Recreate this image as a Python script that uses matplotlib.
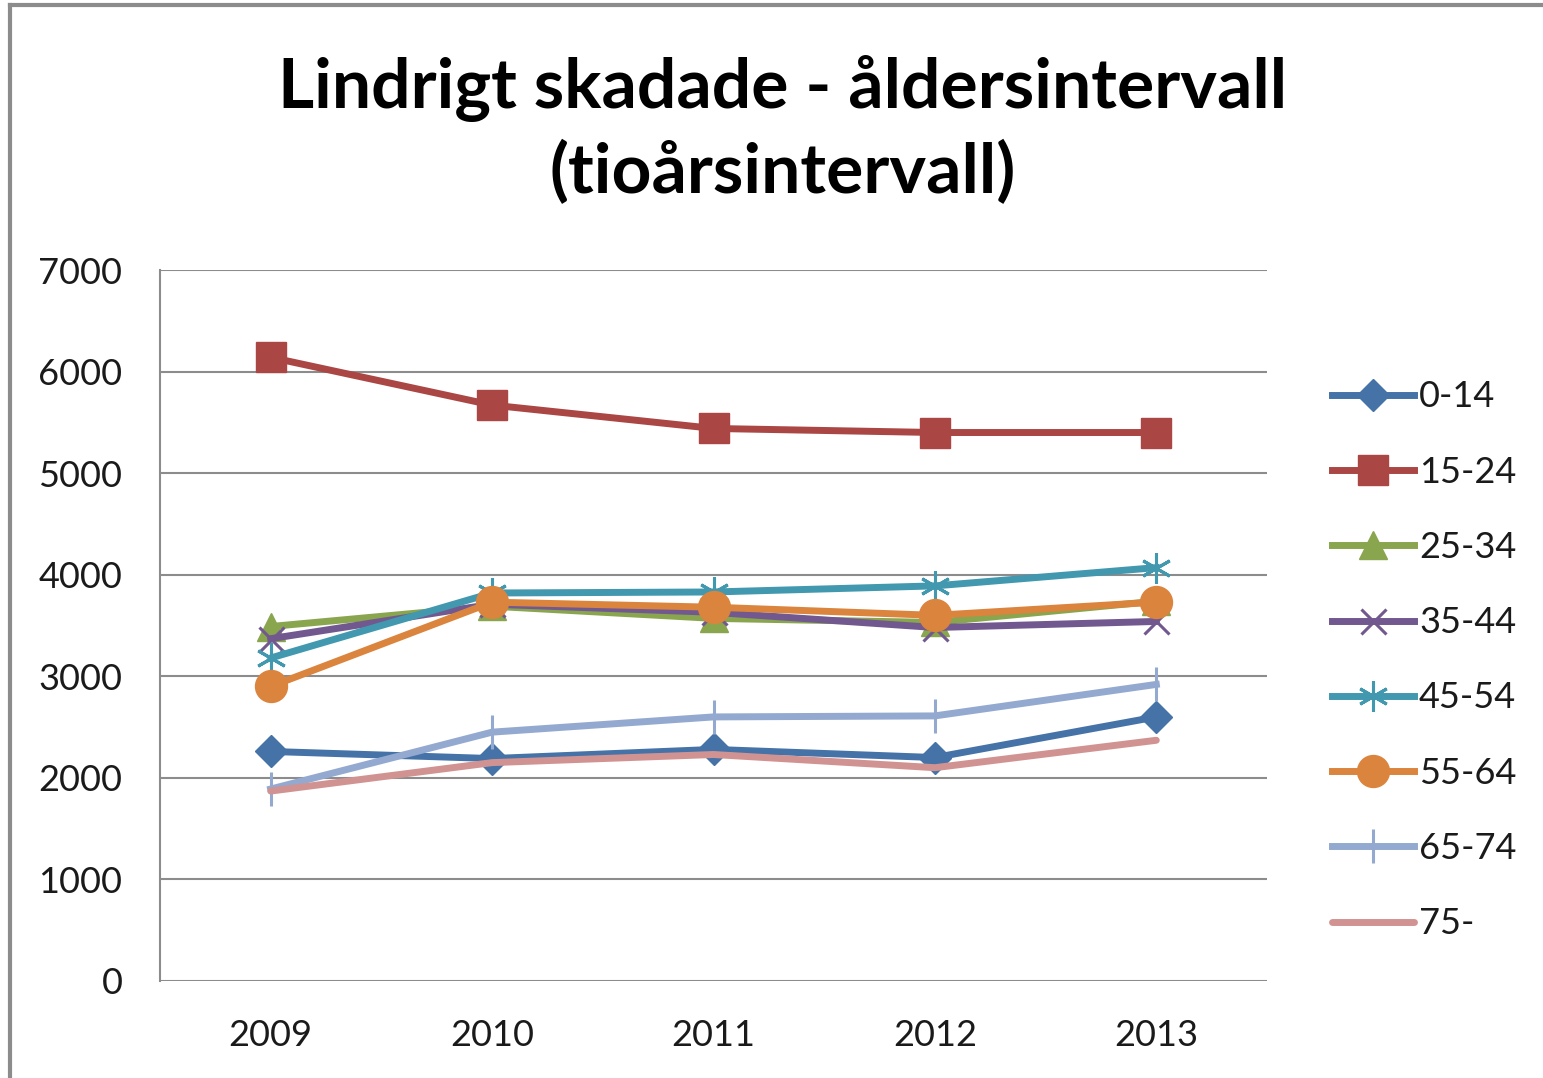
import matplotlib
matplotlib.use("Agg")
import matplotlib.pyplot as plt
from matplotlib.lines import Line2D

years = ["2009", "2010", "2011", "2012", "2013"]
labels = ["0-14", "15-24", "25-34", "35-44", "45-54", "55-64", "65-74", "75-"]
v_0_14 = [2260, 2190, 2280, 2200, 2600]
v_15_24 = [6140, 5670, 5440, 5400, 5400]
v_25_34 = [3490, 3690, 3570, 3530, 3740]
v_35_44 = [3370, 3710, 3630, 3480, 3540]
v_45_54 = [3180, 3820, 3830, 3890, 4070]
v_55_64 = [2900, 3730, 3680, 3600, 3730]
v_65_74 = [1890, 2450, 2600, 2610, 2920]
v_75 = [1870, 2150, 2230, 2100, 2370]
y_ticks = [0, 1000, 2000, 3000, 4000, 5000, 6000, 7000]

series = [v_0_14, v_15_24, v_25_34, v_35_44, v_45_54, v_55_64, v_65_74, v_75]
colors = ["#4572A7", "#AA4643", "#89A54E", "#71588F", "#4198AF", "#DB843D", "#93A9CF", "#D19392"]
markers = ["D", "s", "^", "x", "*", "o", "|", None]
msizes = [16, 21, 20, 18, 22, 23, 24, 0]

plt.rcParams["font.family"] = ["Lato", "DejaVu Sans"]

W, H = 1543, 1078
fig = plt.figure(figsize=(W / 100, H / 100), dpi=100)

# outer chart border (partially visible)
fig.add_artist(Line2D([10 / W, 10 / W], [0, 1 - 5 / H], transform=fig.transFigure, color="#8c8c8c", lw=3))
fig.add_artist(Line2D([10 / W, 1], [1 - 5 / H, 1 - 5 / H], transform=fig.transFigure, color="#8c8c8c", lw=3))

ax = fig.add_axes([160 / W, 1 - 981 / H, (1267 - 160) / W, (981 - 270) / H])
x = list(range(len(years)))

handles = []
for vals, c, m, ms, lab in zip(series, colors, markers, msizes, labels):
    if m is None:
        h, = ax.plot(x, vals, color=c, lw=5, label=lab, solid_capstyle="round")
    elif m == "*":
        h, = ax.plot(x, vals, color=c, lw=5, marker=(6, 2, 0), markersize=ms,
                     markeredgewidth=2.2, markeredgecolor=c, label=lab)
    elif m in ("x", "|"):
        h, = ax.plot(x, vals, color=c, lw=5, marker=m, markersize=ms,
                     markeredgewidth=2.2, markeredgecolor=c, label=lab)
    else:
        h, = ax.plot(x, vals, color=c, lw=5, marker=m, markersize=ms,
                     markerfacecolor=c, markeredgecolor=c, label=lab)
    handles.append(h)

ax.set_xlim(-0.5, len(years) - 0.5)
ax.set_ylim(0, 7000)
ax.set_yticks(y_ticks)
ax.set_yticklabels([str(t) for t in y_ticks])
ax.set_xticks(x)
ax.set_xticklabels(years)
ax.tick_params(axis="both", length=0, labelsize=26, colors="#1a1a1a")
ax.tick_params(axis="y", pad=27)
ax.tick_params(axis="x", pad=27)
ax.grid(axis="y", color="#8c8c8c", lw=1.5)
ax.set_axisbelow(True)
for s in ["top", "right", "bottom"]:
    ax.spines[s].set_visible(False)
ax.spines["left"].set_color("#8c8c8c")
ax.spines["left"].set_linewidth(1.5)

fig.text(783 / W, 1 - 130 / H, "Lindrigt skadade - åldersintervall\n(tioårsintervall)",
         ha="center", va="center", fontsize=50, fontweight="bold", linespacing=1.33, color="black")

leg = fig.legend(handles=handles, labels=labels, loc="upper left",
                 bbox_to_anchor=(1318 / W, 1 - 366 / H), frameon=False,
                 fontsize=26, handlelength=2.25, handletextpad=0.15, labelspacing=1.17,
                 borderaxespad=0)
for t in leg.get_texts():
    t.set_color("#1a1a1a")

fig.savefig("out.png", dpi=100)
